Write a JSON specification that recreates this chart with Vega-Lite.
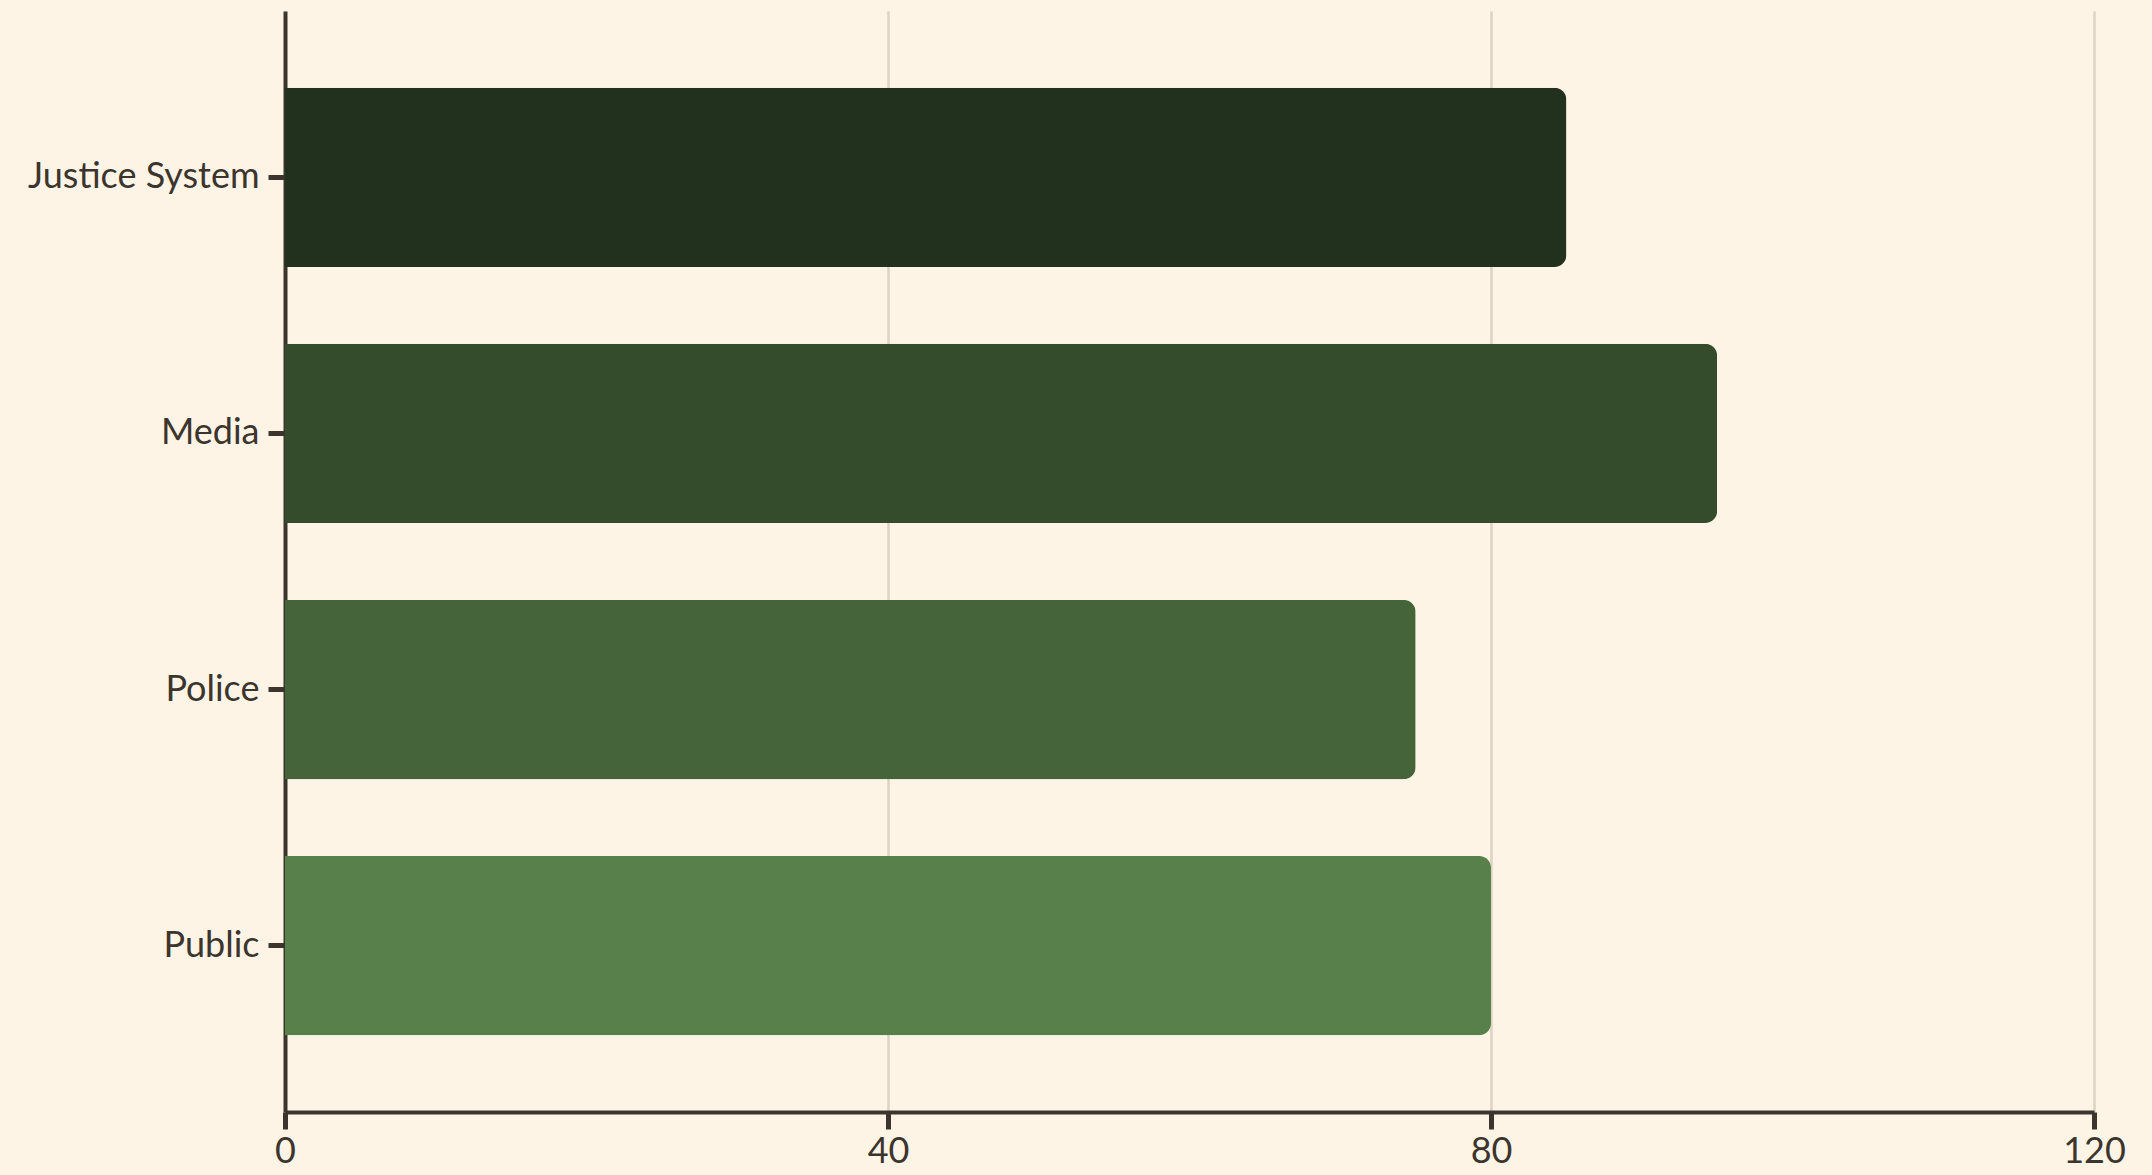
{
  "$schema": "https://vega.github.io/schema/vega-lite/v6.json",
  "width": 1809,
  "height": 1101,
  "autosize": {"type": "none"},
  "padding": {"left": 285, "top": 11, "right": 58, "bottom": 63},
  "background": "#fdf4e6",
  "config": {
    "view": {"stroke": null},
    "font": "Lato"
  },
  "data": {
    "values": [
      {"category": "Justice System", "value": 85},
      {"category": "Media", "value": 95},
      {"category": "Police", "value": 75},
      {"category": "Public", "value": 80}
    ]
  },
  "mark": {"type": "bar", "cornerRadiusEnd": 12},
  "encoding": {
    "y": {
      "field": "category",
      "type": "nominal",
      "sort": null,
      "scale": {"paddingInner": 0.3, "paddingOuter": 0.3},
      "axis": {
        "title": null,
        "domainColor": "#3b352d",
        "domainWidth": 4,
        "tickColor": "#3b352d",
        "tickWidth": 5,
        "tickSize": 17,
        "labelFont": "Lato",
        "labelFontSize": 36,
        "labelColor": "#3b352d",
        "labelPadding": 9,
        "labelLimit": 400,
        "grid": false
      }
    },
    "x": {
      "field": "value",
      "type": "quantitative",
      "scale": {"domain": [0, 120]},
      "axis": {
        "title": null,
        "values": [0, 40, 80, 120],
        "domainColor": "#3b352d",
        "domainWidth": 4,
        "tickColor": "#3b352d",
        "tickWidth": 5,
        "tickSize": 17,
        "labelFont": "Lato",
        "labelFontSize": 36,
        "labelColor": "#3b352d",
        "labelPadding": 5,
        "labelFlush": false,
        "labelOverlap": false,
        "grid": true,
        "gridColor": "#ddd3c3",
        "gridWidth": 2.5
      }
    },
    "color": {
      "field": "category",
      "type": "nominal",
      "sort": null,
      "scale": {
        "domain": ["Justice System", "Media", "Police", "Public"],
        "range": ["#22301e", "#344b2c", "#46643a", "#58804a"]
      },
      "legend": null
    }
  }
}
